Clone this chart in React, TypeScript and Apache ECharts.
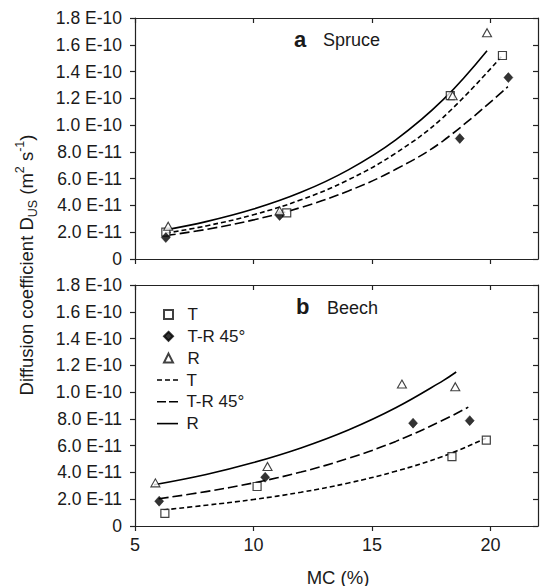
import React, { useEffect, useRef } from "react";
import * as echarts from "echarts";

// ---- tick values ----
const xTicks = [5, 10, 15, 20];
const yTicks = [0, 2e-11, 4e-11, 6e-11, 8e-11, 1.0e-10, 1.2e-10, 1.4e-10, 1.6e-10, 1.8e-10];

// ---- legend names ----
const pointNames = ["T", "T-R 45°", "R"];
const lineNames = ["T ", "T-R 45° ", "R "];

// ---- (a) Spruce: measured points [MC %, D m2/s] ----
const spruceT = [[6.3, 2.0e-11], [11.4, 3.45e-11], [18.3, 1.22e-10], [20.5, 1.52e-10]];
const spruceTR = [[6.3, 1.6e-11], [11.1, 3.25e-11], [18.7, 9.0e-11], [20.75, 1.355e-10]];
const spruceR = [[6.4, 2.45e-11], [11.1, 3.6e-11], [18.4, 1.22e-10], [19.85, 1.69e-10]];
// fitted curves
const spruceFitT = [[6.3, 1.93e-11], [8, 2.47e-11], [10, 3.31e-11], [12, 4.42e-11], [14, 5.91e-11], [16, 7.91e-11], [18, 1.058e-10], [20.45, 1.51e-10]];
const spruceFitTR = [[6.3, 1.75e-11], [8, 2.21e-11], [10, 2.92e-11], [12, 3.85e-11], [14, 5.08e-11], [16, 6.7e-11], [18, 8.83e-11], [20.73, 1.287e-10]];
const spruceFitR = [[6.3, 2.18e-11], [8, 2.79e-11], [10, 3.73e-11], [12, 4.98e-11], [14, 6.66e-11], [16, 8.9e-11], [18, 1.19e-10], [19.85, 1.556e-10]];

// ---- (b) Beech ----
const beechT = [[6.26, 0.95e-11], [10.15, 2.95e-11], [18.37, 5.18e-11], [19.82, 6.42e-11]];
const beechTR = [[6.02, 1.85e-11], [10.49, 3.64e-11], [16.73, 7.68e-11], [19.12, 7.87e-11]];
const beechR = [[5.86, 3.22e-11], [10.59, 4.45e-11], [16.26, 1.06e-10], [18.51, 1.04e-10]];
const beechFitT = [[6.2, 1.2e-11], [8, 1.55e-11], [10, 1.98e-11], [12, 2.52e-11], [14, 3.21e-11], [16, 4.09e-11], [18, 5.21e-11], [19.8, 6.55e-11]];
const beechFitTR = [[6.0, 2.03e-11], [8, 2.57e-11], [10, 3.22e-11], [12, 4.03e-11], [14, 5.05e-11], [16, 6.32e-11], [18, 7.91e-11], [19.06, 8.88e-11]];
const beechFitR = [[5.8, 3.08e-11], [8, 3.85e-11], [10, 4.74e-11], [12, 5.83e-11], [14, 7.17e-11], [16, 8.83e-11], [18, 1.086e-10], [18.55, 1.15e-10]];

const FONT = "'Liberation Sans', Arial, sans-serif";
const INK = "#1a1a1a";
const AX = "#222";

const DASH_ICONS = [
  "path://M0 0h5v1.6H0z M8 0h5v1.6H8z M16 0h5v1.6H16z",
  "path://M0 0h9v1.6H0z M12 0h9v1.6H12z",
  "path://M0 0h21v1.6H0z",
];

function fmtSci(v: number): string {
  if (Math.abs(v) < 1e-20) return "0";
  const e = Math.floor(Math.log10(v) + 1e-9);
  const m = v / Math.pow(10, e);
  return m.toFixed(1) + " E" + e;
}

function xAxes(g: number, labels: boolean) {
  const line = { show: true, onZero: false, lineStyle: { color: AX, width: 1.2 } };
  return [
    {
      type: "value", gridIndex: g, position: "bottom", min: 5, max: 22, interval: 5,
      axisLine: line,
      axisTick: { show: true, inside: false, length: 5, customValues: xTicks, lineStyle: { color: AX, width: 1.2 } },
      axisLabel: { show: labels, customValues: xTicks, fontSize: 18, margin: 10, color: INK, fontFamily: FONT },
      splitLine: { show: false },
    },
    {
      type: "value", gridIndex: g, position: "top", min: 5, max: 22, interval: 5,
      axisLine: line,
      axisTick: { show: true, inside: true, length: 5, customValues: xTicks, lineStyle: { color: AX, width: 1.2 } },
      axisLabel: { show: false },
      splitLine: { show: false },
    },
  ];
}

function yAxes(g: number) {
  const line = { show: true, onZero: false, lineStyle: { color: AX, width: 1.2 } };
  return [
    {
      type: "value", gridIndex: g, position: "left", min: 0, max: 1.8e-10, interval: 2e-11,
      axisLine: line,
      axisTick: { show: true, inside: false, length: 5, customValues: yTicks, lineStyle: { color: AX, width: 1.2 } },
      axisLabel: { show: true, customValues: yTicks, formatter: (v: number) => fmtSci(v), fontSize: 17.5, margin: 13, color: INK, fontFamily: FONT },
      splitLine: { show: false },
    },
    {
      type: "value", gridIndex: g, position: "right", min: 0, max: 1.8e-10, interval: 2e-11,
      axisLine: line,
      axisTick: { show: true, inside: true, length: 5, customValues: yTicks, lineStyle: { color: AX, width: 1.2 } },
      axisLabel: { show: false },
      splitLine: { show: false },
    },
  ];
}

function panelSeries(g: number, pts: number[][][], fits: number[][][]) {
  const xi = g * 2;
  const yi = g * 2;
  const pointStyles: any[] = [
    { symbol: "rect", symbolSize: 8, itemStyle: { color: "#fff", borderColor: "#111", borderWidth: 1.2 } },
    { symbol: "diamond", symbolSize: [9, 10], itemStyle: { color: "#000", borderColor: "#000", borderWidth: 0.5 } },
    { symbol: "triangle", symbolSize: [9, 8], itemStyle: { color: "#fff", borderColor: "#111", borderWidth: 1.1 } },
  ];
  const dashes: any[] = [[5, 3], [10, 4], "solid"];
  const out: any[] = [];
  fits.forEach((d, i) => {
    out.push({
      type: "line", name: lineNames[i], xAxisIndex: xi, yAxisIndex: yi, data: d,
      symbol: "none", smooth: 0.4, z: 2, silent: true,
      lineStyle: { color: "#000", width: 1.6, type: dashes[i] },
      itemStyle: { color: "#000" },
    });
  });
  pts.forEach((d, i) => {
    out.push({
      type: "scatter", name: pointNames[i], xAxisIndex: xi, yAxisIndex: yi, data: d, z: 3, silent: true,
      ...pointStyles[i],
    });
  });
  return out;
}

export default function App() {
  const ref = useRef<HTMLDivElement>(null);
  useEffect(() => {
    if (!ref.current) return;
    const chart = echarts.init(ref.current, undefined, { renderer: "svg" });
    const legendText = { fontSize: 17, color: INK, fontFamily: FONT, lineHeight: 17 };
    const option: any = {
      animation: false,
      backgroundColor: "#fff",
      grid: [
        { left: 135, top: 18, width: 403, height: 241 },
        { left: 135, top: 285, width: 403, height: 241 },
      ],
      xAxis: [...xAxes(0, false), ...xAxes(1, true)],
      yAxis: [...yAxes(0), ...yAxes(1)],
      legend: [
        {
          show: true, orient: "vertical", left: 158, top: 301,
          itemWidth: 9, itemHeight: 9, itemGap: 4.8, selectedMode: false,
          data: pointNames.map((n) => ({ name: n })),
          formatter: (n: string) => "\u00a0\u00a0" + n.trim(),
          textStyle: legendText,
        },
        {
          show: true, orient: "vertical", left: 152, top: 366.5,
          itemWidth: 21, itemHeight: 1.6, itemGap: 4.8, selectedMode: false,
          data: lineNames.map((n, i) => ({ name: n, icon: DASH_ICONS[i], itemStyle: { color: "#000", borderWidth: 0 } })),
          formatter: (n: string) => "\u2009" + n.trim(),
          textStyle: legendText,
        },
      ],
      series: [
        ...panelSeries(0, [spruceT, spruceTR, spruceR], [spruceFitT, spruceFitTR, spruceFitR]),
        ...panelSeries(1, [beechT, beechTR, beechR], [beechFitT, beechFitTR, beechFitR]),
      ],
      graphic: [
        { type: "text", x: 294, y: 39, style: { text: "a", fontSize: 22, fontWeight: "bold", fontFamily: FONT, fill: INK, align: "left", verticalAlign: "middle" } },
        { type: "text", x: 323, y: 40, style: { text: "Spruce", fontSize: 18, fontFamily: FONT, fill: INK, align: "left", verticalAlign: "middle" } },
        { type: "text", x: 296, y: 306, style: { text: "b", fontSize: 22, fontWeight: "bold", fontFamily: FONT, fill: INK, align: "left", verticalAlign: "middle" } },
        { type: "text", x: 327, y: 307.5, style: { text: "Beech", fontSize: 18, fontFamily: FONT, fill: INK, align: "left", verticalAlign: "middle" } },
        { type: "text", x: 338, y: 577, style: { text: "MC (%)", fontSize: 18.5, fontFamily: FONT, fill: INK, align: "center", verticalAlign: "middle" } },
        {
          type: "text", x: 26, y: 265, rotation: Math.PI / 2,
          style: {
            text: "Diffusion coefficient D{sub|US} (m{sup|2} s{sup|-1})",
            fontSize: 18.5, fontFamily: FONT, fill: INK, align: "center", verticalAlign: "middle", lineHeight: 26,
            rich: {
              sub: { fontSize: 12.5, fontFamily: FONT, fill: INK, verticalAlign: "bottom", lineHeight: 14 },
              sup: { fontSize: 12.5, fontFamily: FONT, fill: INK, verticalAlign: "top", lineHeight: 14 },
            },
          },
        },
      ],
    };
    chart.setOption(option);
    return () => chart.dispose();
  }, []);
  return <div ref={ref} style={{ position: "fixed", left: 0, top: 0, width: 540, height: 586, background: "#fff" }} />;
}
